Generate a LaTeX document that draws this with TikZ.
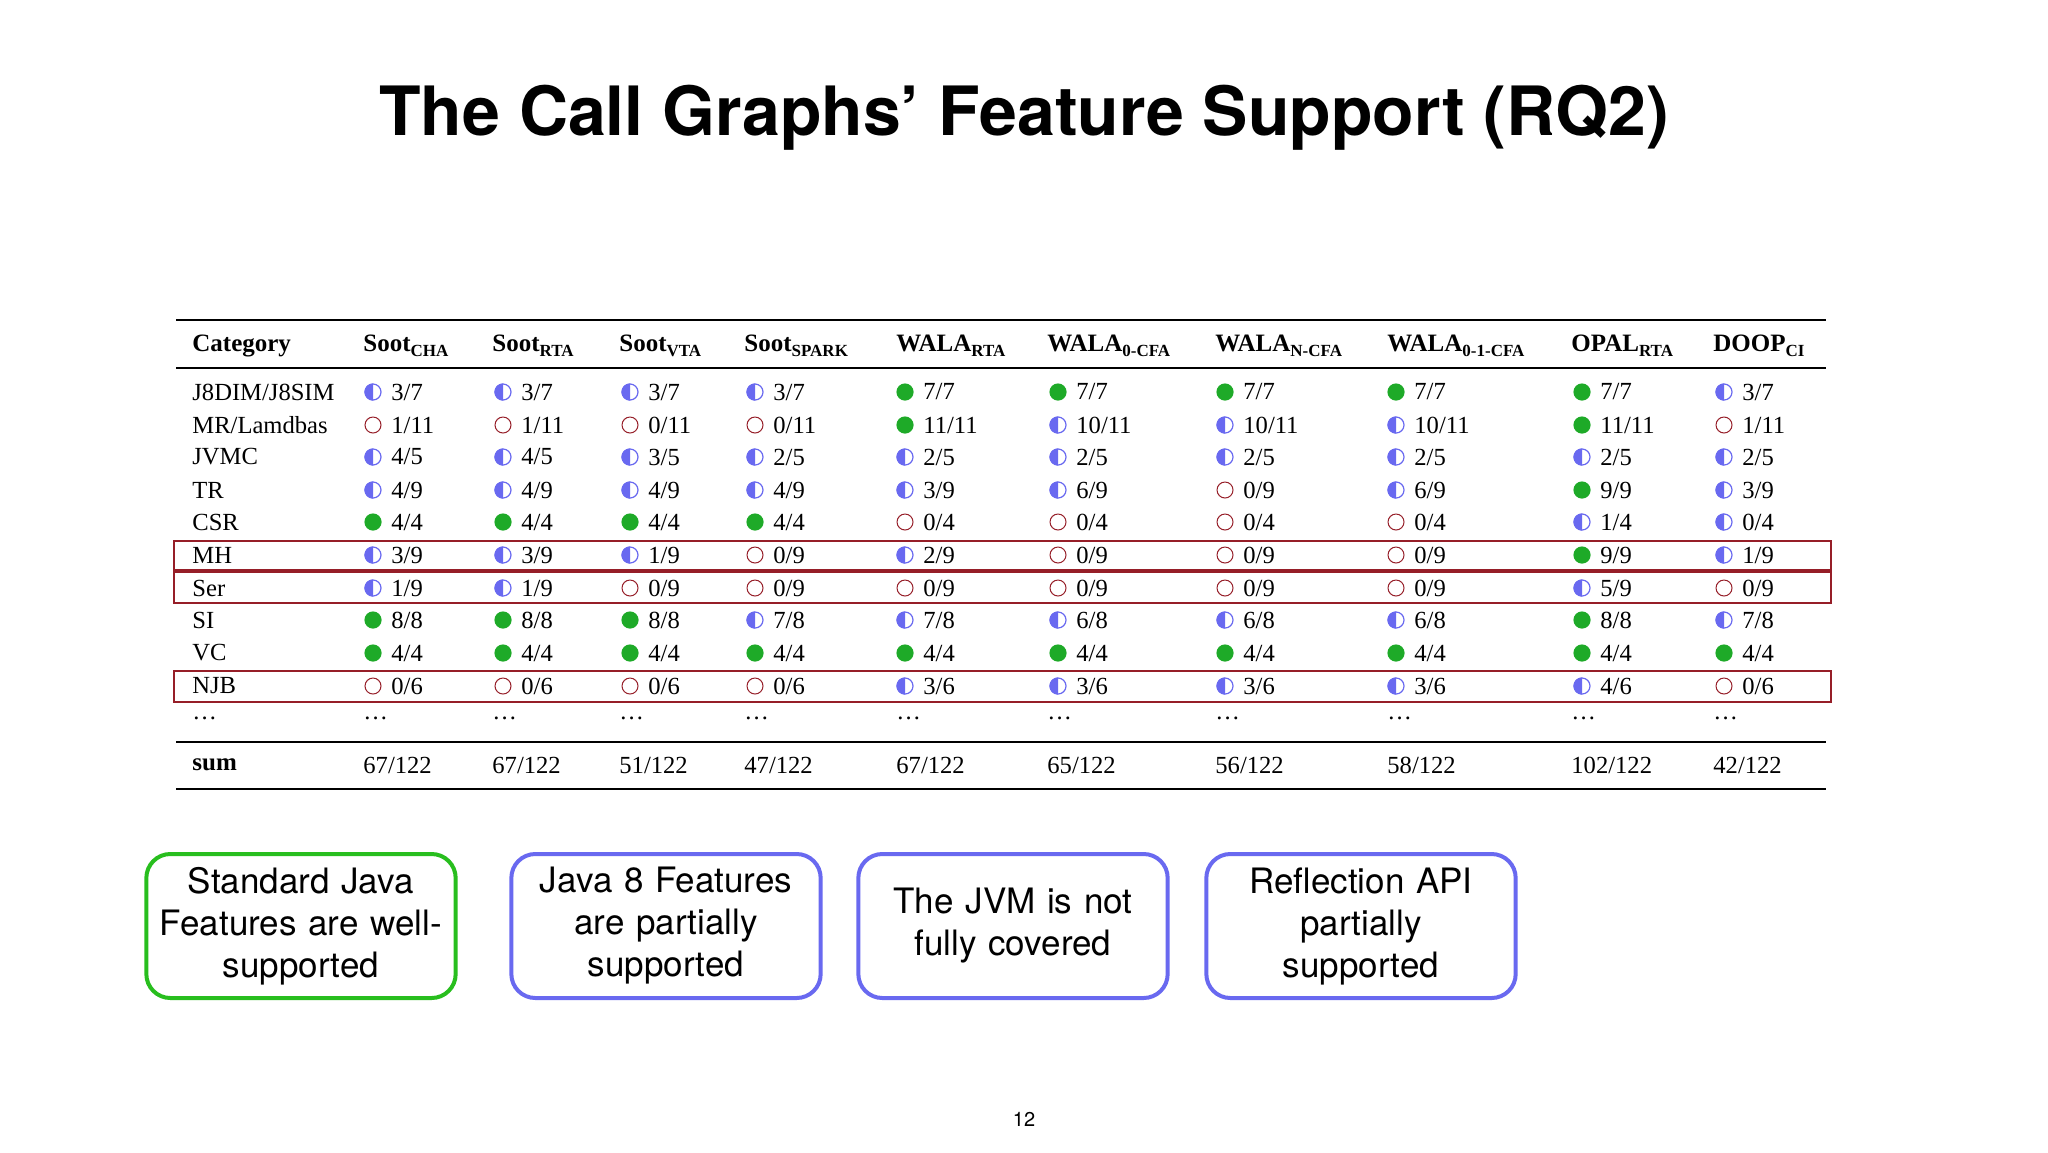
\documentclass[tikz,border=0pt]{standalone}
\usepackage{fontspec}
\setmainfont{Liberation Serif}
\newfontfamily\hv{TeX Gyre Heros}
\definecolor{gr}{RGB}{30,170,40}
\definecolor{bl}{RGB}{105,105,240}
\definecolor{rd}{RGB}{150,30,40}
\definecolor{gbox}{RGB}{40,190,30}
\newcommand{\mysub}[1]{\raisebox{-2.5pt}{\fontsize{8.5}{9}\selectfont #1}}
\newcommand{\icon}[3]{%
  \if#3f\fill[gr] (#1,#2) circle[radius=4.3pt];\fi
  \if#3h\draw[bl,line width=0.6pt] (#1,#2) circle[radius=4pt];
    \fill[bl] (#1,#2) ++(0,4.3pt) arc[start angle=90,end angle=270,radius=4.3pt] -- cycle;\fi
  \if#3e\draw[rd,line width=0.5pt] (#1,#2) circle[radius=4pt];\fi}
\newcommand{\drow}[3]{%
  \node[cell] at (192,#1) {#2};
  \foreach \t/\v [count=\c] in {#3}{
    \pgfmathsetmacro{\cx}{{373,503,630,755,905,1058,1225,1396,1582,1724}[\c-1]}
    \icon{\cx}{#1}{\t}
    \node[cell] at (\cx+18,#1) {\v};
  }}
\tikzset{cell/.style={anchor=west,inner sep=0pt,font=\fontsize{12.3}{14}\selectfont},
  hd/.style={anchor=west,inner sep=0pt,font=\bfseries\fontsize{12.5}{14}\selectfont},
  note/.style={draw,line width=2pt,rounded corners=12pt,minimum width=150pt,minimum height=72pt,
    align=center,font=\hv\fontsize{17.5}{21}\selectfont,text width=148pt},
  redbox/.style={draw=rd,line width=1.2pt}}
\begin{document}
\begin{tikzpicture}[x=0.5pt,y=-0.5pt]
\path[use as bounding box,fill=white] (0,0) rectangle (2048,1152);
\node[font=\hv\bfseries\fontsize{34}{40}\selectfont] (title) at (1024,118) {The Call Graphs’ Feature Support (RQ2)};
% rules
\draw[line width=1.1pt] (176,320) -- (1826,320);
\draw[line width=0.7pt] (176,368) -- (1826,368);
\draw[line width=0.7pt] (176,742) -- (1826,742);
\draw[line width=1.1pt] (176,789) -- (1826,789);
% header
\node[hd] at (192,346) {Category};
\foreach \x/\a/\b in {363/Soot/CHA,492/Soot/RTA,619/Soot/VTA,744/Soot/SPARK,896/WALA/RTA,1047/WALA/0-CFA,1215/WALA/N-CFA,1387/WALA/0-1-CFA,1571/OPAL/RTA,1713/DOOP/CI}
  \node[hd] at (\x,346) {\a\mysub{\b}};
% rows
\drow{392}{J8DIM/J8SIM}{h/{3/7},h/{3/7},h/{3/7},h/{3/7},f/{7/7},f/{7/7},f/{7/7},f/{7/7},f/{7/7},h/{3/7}}
\drow{425}{MR/Lamdbas}{e/{1/11},e/{1/11},e/{0/11},e/{0/11},f/{11/11},h/{10/11},h/{10/11},h/{10/11},f/{11/11},e/{1/11}}
\drow{457}{JVMC}{h/{4/5},h/{4/5},h/{3/5},h/{2/5},h/{2/5},h/{2/5},h/{2/5},h/{2/5},h/{2/5},h/{2/5}}
\drow{490}{TR}{h/{4/9},h/{4/9},h/{4/9},h/{4/9},h/{3/9},h/{6/9},e/{0/9},h/{6/9},f/{9/9},h/{3/9}}
\drow{522}{CSR}{f/{4/4},f/{4/4},f/{4/4},f/{4/4},e/{0/4},e/{0/4},e/{0/4},e/{0/4},h/{1/4},h/{0/4}}
\drow{555}{MH}{h/{3/9},h/{3/9},h/{1/9},e/{0/9},h/{2/9},e/{0/9},e/{0/9},e/{0/9},f/{9/9},h/{1/9}}
\drow{588}{Ser}{h/{1/9},h/{1/9},e/{0/9},e/{0/9},e/{0/9},e/{0/9},e/{0/9},e/{0/9},h/{5/9},e/{0/9}}
\drow{620}{SI}{f/{8/8},f/{8/8},f/{8/8},h/{7/8},h/{7/8},h/{6/8},h/{6/8},h/{6/8},f/{8/8},h/{7/8}}
\drow{653}{VC}{f/{4/4},f/{4/4},f/{4/4},f/{4/4},f/{4/4},f/{4/4},f/{4/4},f/{4/4},f/{4/4},f/{4/4}}
\drow{686}{NJB}{e/{0/6},e/{0/6},e/{0/6},e/{0/6},h/{3/6},h/{3/6},h/{3/6},h/{3/6},h/{4/6},e/{0/6}}
\foreach \x in {192,363,492,619,744,896,1047,1215,1387,1571,1713}
  \node[cell] at (\x,718) {\dots};
\node[hd] at (192,765) {sum};
\foreach \x/\v in {363/67,492/67,619/51,744/47,896/67,1047/65,1215/56,1387/58,1571/102,1713/42}
  \node[cell] at (\x,765) {\v/122};
% red boxes
\draw[redbox] (174,541) rectangle (1831,570);
\draw[redbox] (174,572) rectangle (1831,603);
\draw[redbox] (174,671) rectangle (1831,702);
% notes
\node[note,draw=gbox] (n1) at (301,926) {Standard Java\\Features are well-\\supported};
\node[note,draw=bl] (n2) at (666,926) {Java 8 Features\\are partially\\supported};
\node[note,draw=bl] (n3) at (1013,926) {The JVM is not\\fully covered};
\node[note,draw=bl] (n4) at (1361,926) {Reflection API\\partially\\supported};
\node[font=\hv\fontsize{10}{12}\selectfont] (pg) at (1024,1119) {12};
\end{tikzpicture}
\end{document}
